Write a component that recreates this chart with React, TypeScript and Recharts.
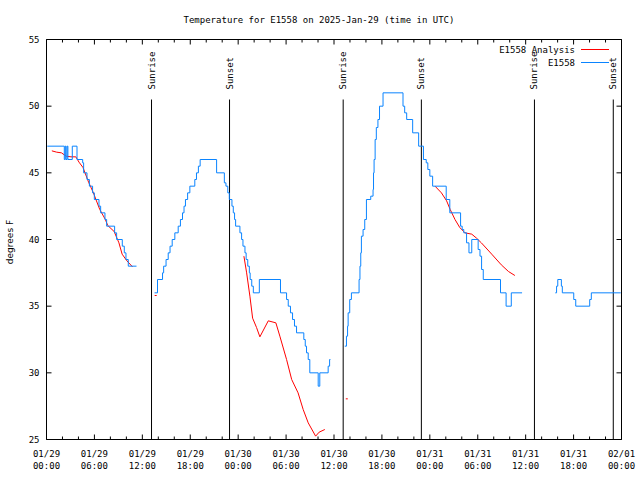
import React from 'react';
import { ComposedChart, Line, Scatter, XAxis, YAxis, ReferenceLine } from 'recharts';

// station readings (hours after 01/29 00:00 UTC, deg F); null breaks the trace
const blueHours = [
  0.1, 2.23, 2.35, 2.45, 2.58, 2.68, 3.23, 3.82, 4.53, 4.65, 5.07, 5.37, 5.77, 5.99, 6.57, 6.78, 7.32, 7.53,
  8.53, 8.78, 9.49, 9.74, 9.95, 10.24, 11.27, 12,
  13.53, 13.9, 14.53, 14.67, 14.97, 15.24, 15.47, 15.74, 16.07, 16.49, 16.77, 17.03, 17.22, 17.4, 17.67, 17.95,
  18.57, 18.78, 19.02, 19.24, 21.3, 22.27, 22.47, 22.7, 22.89, 23.22, 23.39, 23.55, 23.68, 24.22, 24.43, 24.6,
  24.85, 25.0, 25.2, 25.4, 25.5, 25.7, 25.9, 26.65, 29.3, 30.06, 30.27, 30.55, 30.81, 31.05, 31.31, 32.22, 32.4,
  32.56, 32.77, 32.97, 34.02, 34.22, 35.27, 35.45, 35.55, 36.5,
  37.35, 37.56, 37.7, 37.77, 37.97, 38.18, 39.14, 39.25, 39.35, 39.43, 39.64, 39.85, 40.06, 40.6, 40.89, 40.95,
  41.02, 41.15, 41.3, 41.5, 41.7, 42.14, 44.64, 44.85, 45.1, 45.85, 46.6, 47.2, 47.55, 47.75, 48.0, 48.35, 50.05,
  50.5, 51.85, 52.05, 52.25, 52.6, 52.9, 53.25, 54.05, 54.28, 54.48, 54.69, 56.85, 57.55, 58.2, 59.55, 61,
  63.71, 63.87, 64.02, 64.47, 64.59, 66.02, 66.27, 68.02, 68.22, 71.9,
];
const blueTemps = [
  47, 46, 47, 46, 47, 46, 47, 46, 45.75, 45, 44.5, 44, 43.5, 43, 42.5, 42, 41.5, 41,
  40.5, 40, 39.5, 39, 38.5, 38, 38, null,
  36, 37, 37.5, 38, 38.5, 39, 39.5, 40, 40.5, 41, 41.5, 42, 42.5, 43, 43.5, 44,
  44.5, 45, 45.5, 46, 45, 44.25, 44, 43.5, 43, 42.5, 42, 41.5, 41, 40.5, 40, 39.5,
  39, 38.5, 38, 37.5, 37, 36.5, 36, 37, 36, 35.5, 35, 34.5, 34, 33.5, 33, 32.5, 32,
  31.5, 31, 30, 29, 30, 30.5, 31, 31, null,
  32, 32.75, 33.5, 34.5, 35.5, 36, 37, 38, 39, 40.25, 40.75, 41.5, 43, 43.25, 43.75, 45,
  46, 47.5, 48.4, 49, 50, 51, 50, 49.5, 49, 48, 47, 46, 45.75, 45.25, 44.75, 44, 43,
  42, 41, 40.75, 40.5, 39.75, 39, 40, 39.25, 38.75, 37.75, 37, 36, 35, 36, 36, null,
  36, 36.5, 37, 36.5, 36, 35.5, 35, 35.5, 36, 36,
];

// analysis
const redHours = [
  0.67, 1.27, 1.87, 2.47, 3.07, 3.67, 4.07, 4.57, 5.27, 5.87, 6.67, 7.37, 7.67, 8.47, 9.07, 9.47, 10.07, 10.77, 18,
  24.72, 25.06, 25.47, 25.81, 26.3, 26.72, 27.77, 28.72, 29.22, 30.06, 30.7, 31.5, 32.14, 32.77, 33.7, 34.14, 34.85, 40,
  48.65, 49.45, 50.1, 50.55, 51.15, 51.75, 52.4, 53.25, 53.85, 54.45, 55.75, 56.95, 57.85, 58.65,
];
const redTemps = [
  46.65, 46.55, 46.5, 46.25, 46.2, 46.2, 45.8, 45.4, 44.3, 43.5, 42.25, 41.5, 41.05, 40.6, 39.75, 38.9, 38.4, 37.95, null,
  38.75, 37.5, 35.75, 34.1, 33.4, 32.7, 33.9, 33.75, 32.75, 31, 29.5, 28.5, 27.25, 26.25, 25.25, 25.55, 25.75, null,
  44, 43.5, 42.9, 42.25, 41.5, 40.9, 40.5, 40.4, 40.1, 39.75, 38.9, 38.1, 37.6, 37.3,
];
const redDotHours = [13.67, 37.6];
const redDotTemps = [35.8, 28.05];

const sunHours = [13.15, 22.92, 37.15, 46.94, 61.1, 70.97];
const sunNames = ['Sunrise', 'Sunset', 'Sunrise', 'Sunset', 'Sunrise', 'Sunset'];

const xTickHours = [0, 2, 4, 6, 8, 10, 12, 14, 16, 18, 20, 22, 24, 26, 28, 30, 32, 34, 36,
  38, 40, 42, 44, 46, 48, 50, 52, 54, 56, 58, 60, 62, 64, 66, 68, 70, 72];
const tickDates = ['01/29', '01/29', '01/29', '01/29', '01/30', '01/30', '01/30', '01/30', '01/31', '01/31', '01/31', '01/31', '02/01'];
const tickTimes = ['00:00', '06:00', '12:00', '18:00', '00:00', '06:00', '12:00', '18:00', '00:00', '06:00', '12:00', '18:00', '00:00'];
const yTicks = [25, 30, 35, 40, 45, 50, 55];

const blueData = blueHours.map((t, i) => ({ t, v: blueTemps[i] }));
const redData = redHours.map((t, i) => ({ t, v: redTemps[i] }));
const redDotData = redDotHours.map((t, i) => ({ t, v: redDotTemps[i] }));

const MONO = '"DejaVu Sans Mono", "Liberation Mono", monospace';
const BLUE = '#0a84ff';
const RED = '#ff0000';

const BottomTick = (props: any) => {
  const { x, y, payload } = props;
  const major = payload.value % 6 === 0;
  const idx = payload.value / 6;
  return (
    <g>
      <line x1={x} x2={x} y1={y} y2={y - (major ? 5 : 3)} stroke="#000" />
      {major && (
        <text x={x} y={y + 17} textAnchor="middle" fontFamily={MONO} fontSize={9} fill="#000">{tickDates[idx]}</text>
      )}
      {major && (
        <text x={x} y={y + 29} textAnchor="middle" fontFamily={MONO} fontSize={9} fill="#000">{tickTimes[idx]}</text>
      )}
    </g>
  );
};

const TopTick = (props: any) => {
  const { x, y, payload } = props;
  const major = payload.value % 6 === 0;
  return <line x1={x} x2={x} y1={y} y2={y + (major ? 5 : 3)} stroke="#000" />;
};

const LeftTick = (props: any) => {
  const { x, y, payload } = props;
  return (
    <g>
      <line x1={x} x2={x + 5} y1={y} y2={y} stroke="#000" />
      <text x={x - 7} y={y} textAnchor="end" dominantBaseline="central" fontFamily={MONO} fontSize={9} fill="#000">
        {payload.value}
      </text>
    </g>
  );
};

const RightTick = (props: any) => {
  const { x, y } = props;
  return <line x1={x} x2={x - 5} y1={y} y2={y} stroke="#000" />;
};

const sunLabel = (name: string) => (props: any) => {
  const vb = props.viewBox || {};
  const x = vb.x;
  const y = vb.y - 10;
  return (
    <text x={x} y={y} transform={`rotate(-90 ${x} ${y})`} textAnchor="start" dominantBaseline="central"
      fontFamily={MONO} fontSize={9} fill="#000">
      {name}
    </text>
  );
};

export default function App() {
  return (
    <div style={{ position: 'absolute', left: 0, top: 0, width: 640, height: 480, background: '#fff' }}>
      <ComposedChart width={640} height={480} margin={{ top: 38.5, right: 17.5, bottom: 39.5, left: 45.5 }}>
        <XAxis dataKey="t" type="number" domain={[0, 72]} allowDataOverflow ticks={xTickHours} interval={0}
          height={1} tickSize={0} tickMargin={0} tickLine={false} stroke="#000" tick={BottomTick} />
        <XAxis xAxisId="top" orientation="top" dataKey="t" type="number" domain={[0, 72]} allowDataOverflow
          ticks={xTickHours} interval={0} height={1} tickSize={0} tickMargin={0} tickLine={false} stroke="#000" tick={TopTick} />
        <YAxis type="number" domain={[25, 55]} allowDataOverflow ticks={yTicks} interval={0} width={1}
          tickSize={0} tickMargin={0} tickLine={false} stroke="#000" tick={LeftTick} />
        <YAxis yAxisId="right" orientation="right" type="number" domain={[25, 55]} allowDataOverflow ticks={yTicks}
          interval={0} width={1} tickSize={0} tickMargin={0} tickLine={false} stroke="#000" tick={RightTick} />
        {sunHours.map((h, i) => (
          <ReferenceLine key={i} segment={[{ x: h, y: 50.5 }, { x: h, y: 25 }]} stroke="#000" strokeWidth={1}
            label={sunLabel(sunNames[i])} />
        ))}
        <Line data={redData} dataKey="v" type="linear" stroke={RED} strokeWidth={1} dot={false}
          connectNulls={false} isAnimationActive={false} />
        <Line data={blueData} dataKey="v" type="stepAfter" stroke={BLUE} strokeWidth={1} dot={false}
          connectNulls={false} isAnimationActive={false} />
        <Scatter data={redDotData} dataKey="v" fill={RED} isAnimationActive={false}
          shape={(p: any) => <rect x={p.cx - 1} y={p.cy - 0.5} width={2} height={1} fill={RED} />} />
      </ComposedChart>
      <svg width={640} height={480} style={{ position: 'absolute', left: 0, top: 0, pointerEvents: 'none' }}>
        <text x={319} y={23} textAnchor="middle" fontFamily={MONO} fontSize={9} fill="#000">
          Temperature for E1558 on 2025-Jan-29 (time in UTC)
        </text>
        <text x={10} y={242} transform="rotate(-90 10 242)" textAnchor="middle" dominantBaseline="central"
          fontFamily='"DejaVu Sans", sans-serif' fontSize={9} fill="#000">
          degrees F
        </text>
        <text x={575} y={53} textAnchor="end" fontFamily={MONO} fontSize={9} fill="#000">E1558 Analysis</text>
        <line x1={581} x2={609} y1={49.5} y2={49.5} stroke={RED} />
        <text x={575} y={66} textAnchor="end" fontFamily={MONO} fontSize={9} fill="#000">E1558</text>
        <line x1={581} x2={609} y1={62.5} y2={62.5} stroke={BLUE} />
      </svg>
    </div>
  );
}
